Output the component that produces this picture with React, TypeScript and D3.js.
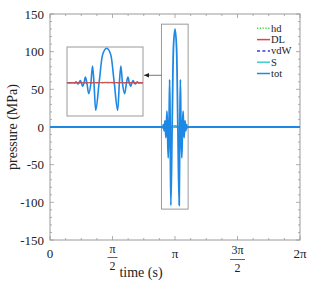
import React from "react";
import * as d3 from "d3";

// ---- data ----
const seriesNames = ["hd", "DL", "vdW", "S", "tot"];
const seriesColors = ["#3fd33f", "#e0453f", "#3b3bd0", "#3fcfcf", "#1e88e5"];
const seriesDash = ["1.2,1.6", null, "3,2.4", null, null];

// time offsets from pi (s) and total pressure (MPa)
const totOffsets = [
  -0.324, -0.305, -0.292, -0.283, -0.273, -0.263, -0.252, -0.241, -0.229, -0.215,
  -0.203, -0.189, -0.171, -0.150, -0.135, -0.121, -0.105, -0.072, -0.040, 0,
  0.040, 0.072, 0.105, 0.121, 0.135, 0.150, 0.171, 0.189, 0.203, 0.215,
  0.229, 0.241, 0.252, 0.263, 0.273, 0.283, 0.292, 0.305, 0.324,
];
const totValues = [
  0, -1, 3, 0, -5, 0, 8, 0, -14, 0,
  21, 0, -41, 0, 63, 0, -104, 0, 104, 130,
  104, 0, -104, 0, 63, 0, -41, 0, 21, 0,
  -14, 0, 8, 0, -5, 0, 3, -1, 0,
];
const dlOffsets = [-0.12, -0.06, 0, 0.06, 0.12];
const dlValues = [0, 0.8, 1.5, 0.8, 0];

const yMajorTicks = [-150, -100, -50, 0, 50, 100, 150];
const yTickLabels = ["-150", "-100", "-50", "0", "50", "100", "150"];

const W = 333;
const H = 300;
const PI = Math.PI;

function buildSeries(offsets: number[], values: number[]) {
  const pts: [number, number][] = [[0, 0]];
  offsets.forEach((o, i) => pts.push([PI + o, values[i]]));
  pts.push([2 * PI, 0]);
  return pts;
}

export default function App() {
  const x = d3.scaleLinear().domain([0, 2 * PI]).range([50, 300]);
  const y = d3.scaleLinear().domain([-150, 150]).range([240, 14]);

  const zeroSeries: [number, number][] = [[0, 0], [2 * PI, 0]];
  const dlSeries = buildSeries(dlOffsets, dlValues);
  const totSeries = buildSeries(totOffsets, totValues);
  const allSeries = [zeroSeries, dlSeries, zeroSeries, zeroSeries, totSeries];

  const line = d3
    .line<[number, number]>()
    .x((d) => x(d[0]))
    .y((d) => y(d[1]))
    .curve(d3.curveMonotoneX);

  // inset
  const ix = d3.scaleLinear().domain([PI - 0.378, PI + 0.346]).range([67, 143]);
  const iy = d3.scaleLinear().domain([-125.5, 134.6]).range([116, 47]);
  const iline = d3
    .line<[number, number]>()
    .x((d) => ix(d[0]))
    .y((d) => iy(d[1]))
    .curve(d3.curveMonotoneX);

  const xMinor = d3.range(0, 17).map((i) => (i * PI) / 8);
  const xMajor = d3.range(0, 5).map((i) => (i * PI) / 2);
  const yMinor = d3.range(-150, 151, 10);

  const frame = "#9a9a9a";
  const font = "'Liberation Serif', 'DejaVu Serif', serif";
  const ts = { fontFamily: font };

  const boxX0 = x(PI - 0.34);
  const boxX1 = x(PI + 0.33);
  const boxY0 = y(136.5);
  const boxY1 = y(-109);

  const insetOrder = [0, 2, 3, 4, 1];

  return (
    <svg
      width={W}
      height={H}
      style={{ position: "absolute", left: 0, top: 0, background: "#fff", fontFamily: font }}
    >
      <defs>
        <clipPath id="plotclip">
          <rect x={50} y={14} width={250} height={226} />
        </clipPath>
        <clipPath id="insetclip">
          <rect x={67} y={47} width={76} height={69} />
        </clipPath>
        <marker id="arrow" markerWidth="6" markerHeight="6" refX="5" refY="3" orient="auto-start-reverse" markerUnits="userSpaceOnUse">
          <path d="M0,0.8 L5,3 L0,5.2 Z" fill="#222" />
        </marker>
      </defs>

      <rect x={50} y={14} width={250} height={226} fill="none" stroke={frame} strokeWidth={1} />

      {xMinor.map((t, i) => {
        const major = i % 4 === 0;
        const L = major ? 4 : 2;
        return (
          <g key={"xt" + i} stroke={frame} strokeWidth={0.8}>
            <line x1={x(t)} x2={x(t)} y1={240} y2={240 - L} />
            <line x1={x(t)} x2={x(t)} y1={14} y2={14 + L} />
          </g>
        );
      })}
      {yMinor.map((v, i) => {
        const major = v % 50 === 0;
        const L = major ? 4 : 2;
        return (
          <g key={"yt" + i} stroke={frame} strokeWidth={0.8}>
            <line x1={50} x2={50 + L} y1={y(v)} y2={y(v)} />
            <line x1={300} x2={300 - L} y1={y(v)} y2={y(v)} />
          </g>
        );
      })}

      {yMajorTicks.map((v, i) => (
        <text key={"yl" + i} x={44} y={y(v)} dy="0.35em" textAnchor="end" fontSize={13} fill="#222" style={ts}>
          {yTickLabels[i]}
        </text>
      ))}

      <g fontSize={13} fill="#222" style={ts}>
        <text x={x(xMajor[0])} y={258} textAnchor="middle" style={ts}>0</text>
        <text x={x(xMajor[1])} y={253} textAnchor="middle" fontSize={12} style={ts}>π</text>
        <line x1={x(xMajor[1]) - 5} x2={x(xMajor[1]) + 5} y1={257.5} y2={257.5} stroke="#222" strokeWidth={0.7} />
        <text x={x(xMajor[1])} y={270} textAnchor="middle" fontSize={12} style={ts}>2</text>
        <text x={x(xMajor[2])} y={258} textAnchor="middle" style={ts}>π</text>
        <text x={x(xMajor[3])} y={254} textAnchor="middle" fontSize={12} style={ts}>3π</text>
        <line x1={x(xMajor[3]) - 7.5} x2={x(xMajor[3]) + 7.5} y1={259.5} y2={259.5} stroke="#222" strokeWidth={0.7} />
        <text x={x(xMajor[3])} y={272} textAnchor="middle" fontSize={12} style={ts}>2</text>
        <text x={x(xMajor[4])} y={258} textAnchor="middle" style={ts}>2π</text>
      </g>

      <text x={141} y={277} textAnchor="middle" fontSize={14} fill="#222" style={ts}>time (s)</text>
      <text
        transform="translate(12,127) rotate(-90)"
        textAnchor="middle"
        dy="0.35em"
        fontSize={14}
        fill="#222"
        style={ts}
      >
        pressure (MPa)
      </text>

      <rect x={boxX0} y={boxY0} width={boxX1 - boxX0} height={boxY1 - boxY0} fill="none" stroke={frame} strokeWidth={1} />

      <g clipPath="url(#plotclip)">
        {allSeries.map((s, i) => (
          <path
            key={"s" + i}
            d={line(s) || ""}
            fill="none"
            stroke={seriesColors[i]}
            strokeWidth={i === 4 ? 1.8 : 1.3}
            strokeDasharray={seriesDash[i] || undefined}
          />
        ))}
      </g>

      <line x1={boxX0} x2={144} y1={75.3} y2={75.3} stroke="#555" strokeWidth={0.8} markerEnd="url(#arrow)" />

      <rect x={67} y={47} width={76} height={69} fill="#fff" stroke={frame} strokeWidth={1} />
      <g clipPath="url(#insetclip)">
        {insetOrder.map((i) => (
          <path
            key={"is" + i}
            d={iline(allSeries[i]) || ""}
            fill="none"
            stroke={seriesColors[i]}
            strokeWidth={i === 4 ? 1.6 : 1}
            strokeDasharray={seriesDash[i] || undefined}
          />
        ))}
      </g>

      {seriesNames.map((n, i) => {
        const ly = 28.3 + i * 11.3;
        return (
          <g key={"lg" + i}>
            <line
              x1={257}
              x2={270}
              y1={ly}
              y2={ly}
              stroke={seriesColors[i]}
              strokeWidth={1.5}
              strokeDasharray={seriesDash[i] || undefined}
            />
            <text x={271} y={ly} dy="0.33em" fontSize={10.5} fill="#222" style={ts}>
              {n}
            </text>
          </g>
        );
      })}
    </svg>
  );
}
